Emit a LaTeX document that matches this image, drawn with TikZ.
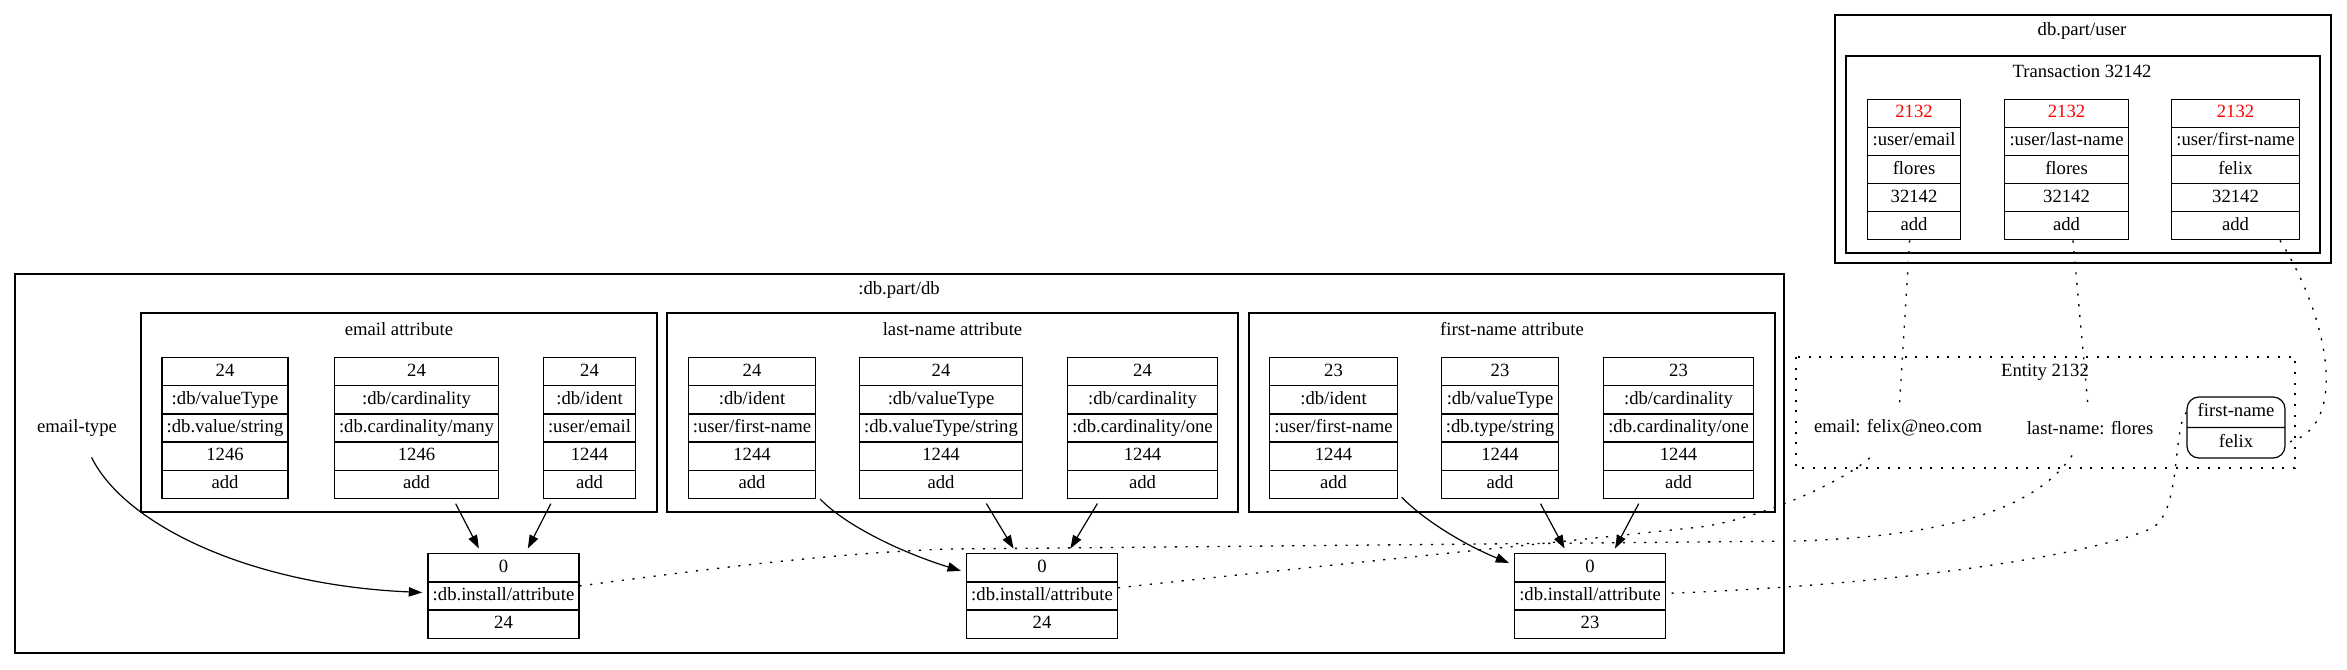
\documentclass[tikz,border=0pt]{standalone}
\usepackage{fontspec}
\setmainfont{Liberation Serif}
\usetikzlibrary{shapes.multipart,arrows.meta}
\newcommand{\recfont}{\fontsize{14}{17}\selectfont}
\newcommand{\rfive}[5]{\strut #1\nodepart{two}\strut #2\nodepart{three}\strut #3\nodepart{four}\strut #4\nodepart{five}\strut #5}
\newcommand{\rthree}[3]{\strut #1\nodepart{two}\strut #2\nodepart{three}\strut #3}
\newcommand{\eid}{\textcolor{red}{2132}}

\begin{document}
\begin{tikzpicture}
                    [x=0.75pt,y=-0.75pt,font=\recfont,line width=0.9pt,
                     rec/.style={draw,rectangle split,rectangle split parts=5,inner xsep=3.5pt,inner ysep=1.6pt},
                     inst/.style={rec,rectangle split parts=3},
                     frec/.style={rec,rectangle split parts=2,rounded corners=9pt,inner xsep=8pt,inner ysep=2.5pt},
                     lbl/.style={minimum height=36pt,minimum width=54pt,inner sep=2pt},
                     arr/.style={-{Triangle[length=10pt,width=7pt]},shorten <=4pt,shorten >=4pt},
                     dotline/.style={line width=1pt,dash pattern=on 1.6pt off 6.4pt}]

                    \useasboundingbox (0,0) rectangle (2347,669);

                    % Partition :db.part/db
                    \draw (15,274) rectangle (1784,653); \node (tdb) at (899,290) {:db.part/db};
                    \draw (141,313) rectangle (657,512); \node (tea) at (399,329) {email attribute};
                    \draw (667,313) rectangle (1238,512); \node (tla) at (952.5,329) {last-name attribute};
                    \draw (1249,313) rectangle (1775,512); \node (tfa) at (1512,329) {first-name attribute};

                    \node[lbl] (etl) at (77,428) {email-type};

                    \node[rec] (ev) at (225,428) {\rfive{24}{:db/valueType}{:db.value/string}{1246}{add}};
                    \node[rec] (ec) at (416.5,428) {\rfive{24}{:db/cardinality}{:db.cardinality/many}{1246}{add}};
                    \node[rec] (ei) at (589.5,428) {\rfive{24}{:db/ident}{:user/email}{1244}{add}};

                    \node[rec] (li) at (752,428) {\rfive{24}{:db/ident}{:user/first-name}{1244}{add}};
                    \node[rec] (lv) at (941,428) {\rfive{24}{:db/valueType}{:db.valueType/string}{1244}{add}};
                    \node[rec] (lc) at (1142.5,428) {\rfive{24}{:db/cardinality}{:db.cardinality/one}{1244}{add}};

                    \node[rec] (fi) at (1333.5,428) {\rfive{23}{:db/ident}{:user/first-name}{1244}{add}};
                    \node[rec] (fv) at (1500,428) {\rfive{23}{:db/valueType}{:db.type/string}{1244}{add}};
                    \node[rec] (fc) at (1678.5,428) {\rfive{23}{:db/cardinality}{:db.cardinality/one}{1244}{add}};

                    \node[inst] (ia) at (503.5,596) {\rthree{0}{:db.install/attribute}{24}};
                    \node[inst] (ib) at (1042,596) {\rthree{0}{:db.install/attribute}{24}};
                    \node[inst] (ic) at (1590,596) {\rthree{0}{:db.install/attribute}{23}};

                    % Install edges
                    \draw[arr] (etl) .. controls (125,525) and (250,585) .. (ia);
                    \draw[arr] (ec) -- (ia); \draw[arr] (ei) -- (ia);
                    \draw[arr] (li) .. controls (845,525) and (900,552) .. (ib);
                    \draw[arr] (lv) -- (ib); \draw[arr] (lc) -- (ib);
                    \draw[arr] (fi) .. controls (1425,521) and (1465,545) .. (ic);
                    \draw[arr] (fv) -- (ic); \draw[arr] (fc) -- (ic);

                    % Partition db.part/user
                    \draw (1835,15) rectangle (2331,263); \node (tus) at (2082,31) {db.part/user};
                    \draw (1846,56) rectangle (2320,253); \node (ttx) at (2082,71) {Transaction 32142};
                    \node[rec] (te) at (1914,169.5) {\rfive{\eid}{:user/email}{flores}{32142}{add}};
                    \node[rec] (tl) at (2066.5,169.5) {\rfive{\eid}{:user/last-name}{flores}{32142}{add}};
                    \node[rec] (tf) at (2235.5,169.5) {\rfive{\eid}{:user/first-name}{felix}{32142}{add}};

                    % Entity 2132
                    \draw[dotline] (1796,357) rectangle (2295,468); \node (ten) at (2045,372) {Entity 2132};
                    \node[lbl] (elbl) at (1898,428) {email: felix@neo.com};
                    \node[lbl] (llbl) at (2090,428) {last-name: flores};
                    \node[frec] (fx) at (2236,427.5) {\strut first-name\nodepart{two}\strut felix};

                    % Dotted links
                    \draw[dotline] (te) -- (elbl);
                    \draw[dotline] (tl) -- (llbl);
                    \draw[dotline] (tf) .. controls (2330,320) and (2350,430) .. (fx.two east);
                    \draw[dotline] (fx.text west) .. controls (2172,430) and (2182,515) .. (2150,529) .. controls (2090,555) and (1900,585) .. (ic);
                    \draw[dotline] (ia) .. controls (700,570) and (830,553) .. (950,549) -- (1800,541) .. controls (1960,535) and (2040,505) .. (llbl);
                    \draw[dotline] (ib) .. controls (1300,568) and (1550,543) .. (1700,527) .. controls (1760,519) and (1850,480) .. (elbl);
                \end{tikzpicture}
\end{document}
